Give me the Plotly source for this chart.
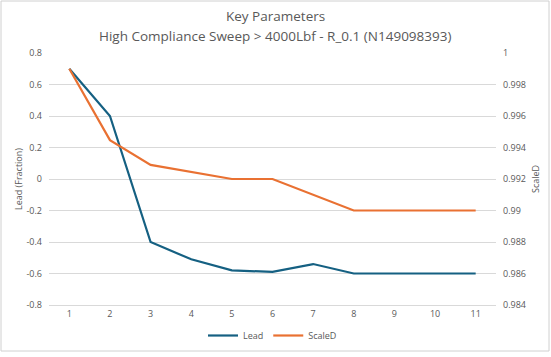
import plotly.graph_objects as go

categories = [1, 2, 3, 4, 5, 6, 7, 8, 9, 10, 11]
lead = [0.7, 0.4, -0.4, -0.51, -0.58, -0.59, -0.54, -0.6, -0.6, -0.6, -0.6]
scaled = [0.999, 0.99447, 0.9929, 0.99245, 0.992, 0.992, 0.991, 0.990, 0.990, 0.990, 0.990]

left_ticks = [0.8, 0.6, 0.4, 0.2, 0, -0.2, -0.4, -0.6, -0.8]
left_labels = ["0.8", "0.6", "0.4", "0.2", "0", "-0.2", "-0.4", "-0.6", "-0.8"]
right_ticks = [1.0, 0.998, 0.996, 0.994, 0.992, 0.99, 0.988, 0.986, 0.984]
right_labels = ["1", "0.998", "0.996", "0.994", "0.992", "0.99", "0.988", "0.986", "0.984"]

FONT = "Open Sans"
GRAY = "#595959"
W, H = 551, 357
L, R, T, B = 49, 55, 53, 52
PW, PH = W - L - R, H - T - B

def px(x):
    return (x - L) / PW

def py(y):
    return 1 - (y - T) / PH

fig = go.Figure()
fig.add_trace(go.Scatter(x=categories, y=lead, name="Lead", mode="lines",
                         line=dict(color="#156082", width=2.2)))
fig.add_trace(go.Scatter(x=categories, y=scaled, name="ScaleD", mode="lines",
                         line=dict(color="#E97132", width=2.2), yaxis="y2"))

fig.update_layout(
    width=W, height=H,
    margin=dict(l=L, r=R, t=T, b=B, autoexpand=False),
    paper_bgcolor="white", plot_bgcolor="white",
    font=dict(family=FONT, color=GRAY, size=9),
    xaxis=dict(range=[0.5, 11.5], tickmode="array", tickvals=categories,
               ticktext=[str(c) for c in categories], showgrid=False,
               showline=True, linecolor="#D9D9D9", linewidth=1, zeroline=False,
               ticks="", tickfont=dict(size=9, color=GRAY)),
    yaxis=dict(range=[-0.8, 0.8], tickmode="array", tickvals=left_ticks, ticktext=left_labels,
               showgrid=True, gridcolor="#D9D9D9", gridwidth=1, zeroline=False,
               tickfont=dict(size=9, color=GRAY), ticklabelstandoff=6),
    yaxis2=dict(range=[0.984, 1.0], overlaying="y", side="right", tickmode="array",
                tickvals=right_ticks, ticktext=right_labels, showgrid=False, zeroline=False,
                tickfont=dict(size=9, color=GRAY), ticklabelstandoff=6),
    legend=dict(orientation="h", x=0.5, xanchor="center", yref="container",
                y=1 - 321 / H, yanchor="top",
                font=dict(size=9, color=GRAY), itemwidth=30, tracegroupgap=0),
    shapes=[dict(type="rect", xref="paper", yref="paper", x0=px(1), x1=px(549),
                 y0=py(351), y1=py(1), line=dict(color="#D0D0D0", width=1))],
    annotations=[
        dict(text="Key Parameters", xref="paper", yref="paper", x=px(275), y=py(16),
             xanchor="center", yanchor="middle", showarrow=False,
             font=dict(family=FONT, size=13.5, color=GRAY)),
        dict(text="High Compliance Sweep > 4000Lbf - R_0.1 (N149098393)", xref="paper", yref="paper",
             x=px(275), y=py(36), xanchor="center", yanchor="middle", showarrow=False,
             font=dict(family=FONT, size=13.5, color=GRAY)),
        dict(text="Lead (Fraction)", xref="paper", yref="paper", x=px(18), y=py(179),
             xanchor="center", yanchor="middle", showarrow=False, textangle=-90,
             font=dict(family=FONT, size=9, color=GRAY)),
        dict(text="ScaleD", xref="paper", yref="paper", x=px(535), y=py(179),
             xanchor="center", yanchor="middle", showarrow=False, textangle=-90,
             font=dict(family=FONT, size=9, color=GRAY)),
    ],
)

fig.write_html("out.html", config={"displayModeBar": False},
               post_script="document.body.style.margin='0';document.body.style.overflow='hidden';")
